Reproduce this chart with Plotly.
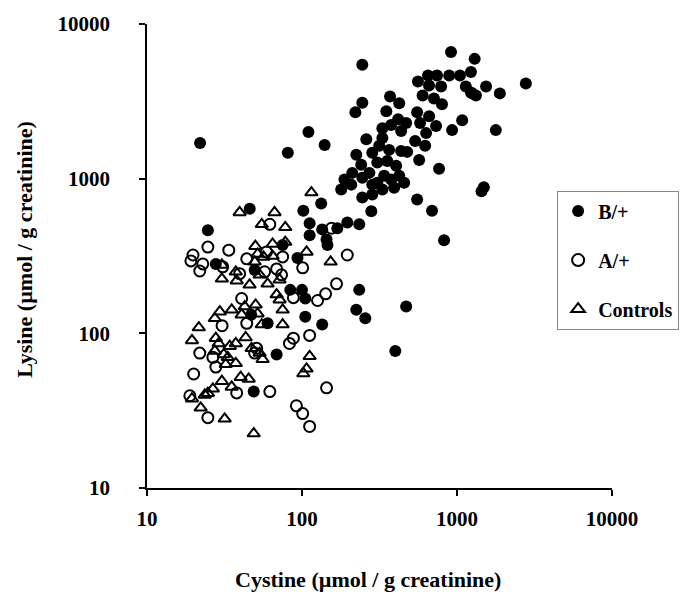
import plotly.graph_objects as go

# ---- data ----
b_cystine = [22, 110, 140, 81, 133, 915, 1300, 245, 2780, 1230, 1045, 890, 743, 650, 560, 660, 790, 1140,
             1540, 1250, 1890, 600, 710, 800, 370, 424, 245, 221, 350, 553, 661, 1080, 417, 470, 578, 733,
             330, 376, 930, 1780, 632, 436, 260, 537, 330, 623, 315, 224, 284, 436, 477, 365, 570, 241, 306,
             405, 766, 211, 272, 339, 424, 188, 245, 179, 284, 376, 456, 330, 393, 245, 284, 553, 1440, 1490,
             690, 280, 825, 46, 102, 112, 112, 135, 169, 196, 234, 144, 146, 24.7, 75, 93.5, 49.5, 27.8, 84,
             100, 105, 234, 224, 256, 470, 105, 135, 60, 47, 400, 68.6, 48.8, 208, 306, 355, 1230, 1325]
b_lysine = [1700, 2000, 1650, 1470, 690, 6600, 5950, 5450, 4120, 4900, 4640, 4640, 4640, 4640, 4250, 4000,
            3950, 3950, 3950, 3560, 3560, 3450, 3300, 3030, 3400, 3070, 3100, 2690, 2730, 2690, 2530, 2390,
            2420, 2290, 2290, 2190, 2120, 2220, 2060, 2060, 1970, 2030, 1800, 1750, 1830, 1630, 1630, 1430,
            1470, 1510, 1490, 1535, 1320, 1230, 1270, 1210, 1160, 1090, 1090, 1045, 1045, 986, 1015, 850,
            915, 986, 942, 850, 875, 755, 789, 733, 830, 880, 620, 615, 400, 640, 620, 515, 430, 470, 478,
            520, 507, 405, 372, 464, 372, 307, 257, 281, 191, 191, 168, 191, 142, 125, 149, 128, 114, 116,
            132, 77, 73, 42, 915, 942, 1300, 3610, 3450]

a_cystine = [155, 62, 24.7, 33.7, 19.8, 19.2, 22.9, 21.9, 30.8, 39.6, 44, 59, 75, 68.6, 73.8, 57.4, 101,
             167, 88, 126, 142, 196, 40.8, 30.5, 44, 112, 83, 88, 21.9, 26.6, 51, 49.5, 27.8, 20, 37.9, 62,
             18.9, 24.7, 144, 92, 101, 112]
a_lysine = [478, 507, 361, 345, 321, 294, 281, 253, 269, 243, 303, 336, 312, 261, 239, 250, 265, 209, 170,
            163, 180, 321, 168, 112, 116, 97, 86, 93, 74.5, 70, 80, 74.5, 60.5, 54.6, 41.2, 42, 39.5, 28.5,
            44.4, 34, 30.3, 25]

c_cystine = [115, 39.6, 66.5, 55, 78, 50, 64.6, 78, 51.7, 56.5, 64.6, 49.5, 53.3, 60, 71.7, 30.4, 30.4,
             37.4, 37.9, 45.9, 107, 153, 68.6, 71.7, 75, 50.2, 51.7, 42.7, 40.8, 35.2, 29.5, 27.4, 21.6, 55,
             75, 19.5, 27.8, 29, 34.2, 37.4, 43.3, 31.3, 33.2, 47.3, 53.3, 55.7, 32.2, 37.4, 30.4, 40.2, 45.3,
             35.2, 26.6, 24.7, 23.6, 19.5, 22.2, 31.7, 48.8, 112, 107, 102, 27.4]
c_lysine = [813, 605, 605, 507, 485, 366, 378, 389, 326, 312, 316, 290, 239, 209, 222, 277, 225, 250, 219,
            206, 336, 290, 178, 165, 142, 153, 134, 149, 132, 142, 138, 125, 109, 114, 114, 90, 93, 86, 82.6,
            86, 94, 73, 70, 80, 74.5, 68, 63, 64, 49, 52, 50.7, 45, 43.8, 41, 40, 37.8, 33, 28, 22.5, 71, 59,
            55, 77]

series_names = ["B/+", "A/+", "Controls"]
tick_vals = [10, 100, 1000, 10000]
tick_text = ["10", "100", "1000", "10000"]
x_title = "Cystine (µmol / g creatinine)"
y_title = "Lysine (µmol / g creatinine)"

FONT = "Liberation Serif, Times New Roman, serif"

fig = go.Figure()
fig.add_trace(go.Scatter(x=c_cystine, y=c_lysine, mode="markers", name=series_names[2], legendgroup="c",
                         legendrank=3,
                         marker=dict(symbol="triangle-up-open", size=11, color="black",
                                     line=dict(width=2, color="black"))))
fig.add_trace(go.Scatter(x=a_cystine, y=a_lysine, mode="markers", name=series_names[1], legendgroup="a",
                         legendrank=2,
                         marker=dict(symbol="circle-open", size=11, color="black",
                                     line=dict(width=2, color="black"))))
fig.add_trace(go.Scatter(x=b_cystine, y=b_lysine, mode="markers", name=series_names[0], legendgroup="b",
                         legendrank=1,
                         marker=dict(symbol="circle", size=12, color="black")))

axis_common = dict(type="log", range=[1, 4], showgrid=False, zeroline=False, showline=True,
                   linecolor="black", linewidth=1.5, ticks="outside", ticklen=6, tickwidth=1.5,
                   tickcolor="black", tickvals=tick_vals, ticktext=tick_text,
                   tickfont=dict(family=FONT, size=21, color="black", weight="bold"))

fig.update_xaxes(**axis_common, ticklabelstandoff=5)
fig.update_yaxes(**axis_common, ticklabelstandoff=25)

fig.update_layout(
    width=691, height=601,
    margin=dict(l=147, r=77, t=20, b=113),
    paper_bgcolor="white", plot_bgcolor="white",
    showlegend=True,
    legend=dict(x=0.882, y=0.641, xanchor="left", yanchor="top",
                bordercolor="#888888", borderwidth=1, bgcolor="white",
                traceorder="grouped", tracegroupgap=20,
                font=dict(family=FONT, size=20, color="black", weight="bold"),
                itemsizing="constant"),
    annotations=[
        dict(text=x_title, xref="paper", yref="paper", x=0.475, y=-0.197, showarrow=False,
             xanchor="center", yanchor="middle",
             font=dict(family=FONT, size=22, color="black", weight="bold")),
        dict(text=y_title, xref="paper", yref="paper", x=-0.265, y=0.515, showarrow=False,
             xanchor="center", yanchor="middle", textangle=-90,
             font=dict(family=FONT, size=22, color="black", weight="bold")),
    ],
)

fig.write_html("out.html")
